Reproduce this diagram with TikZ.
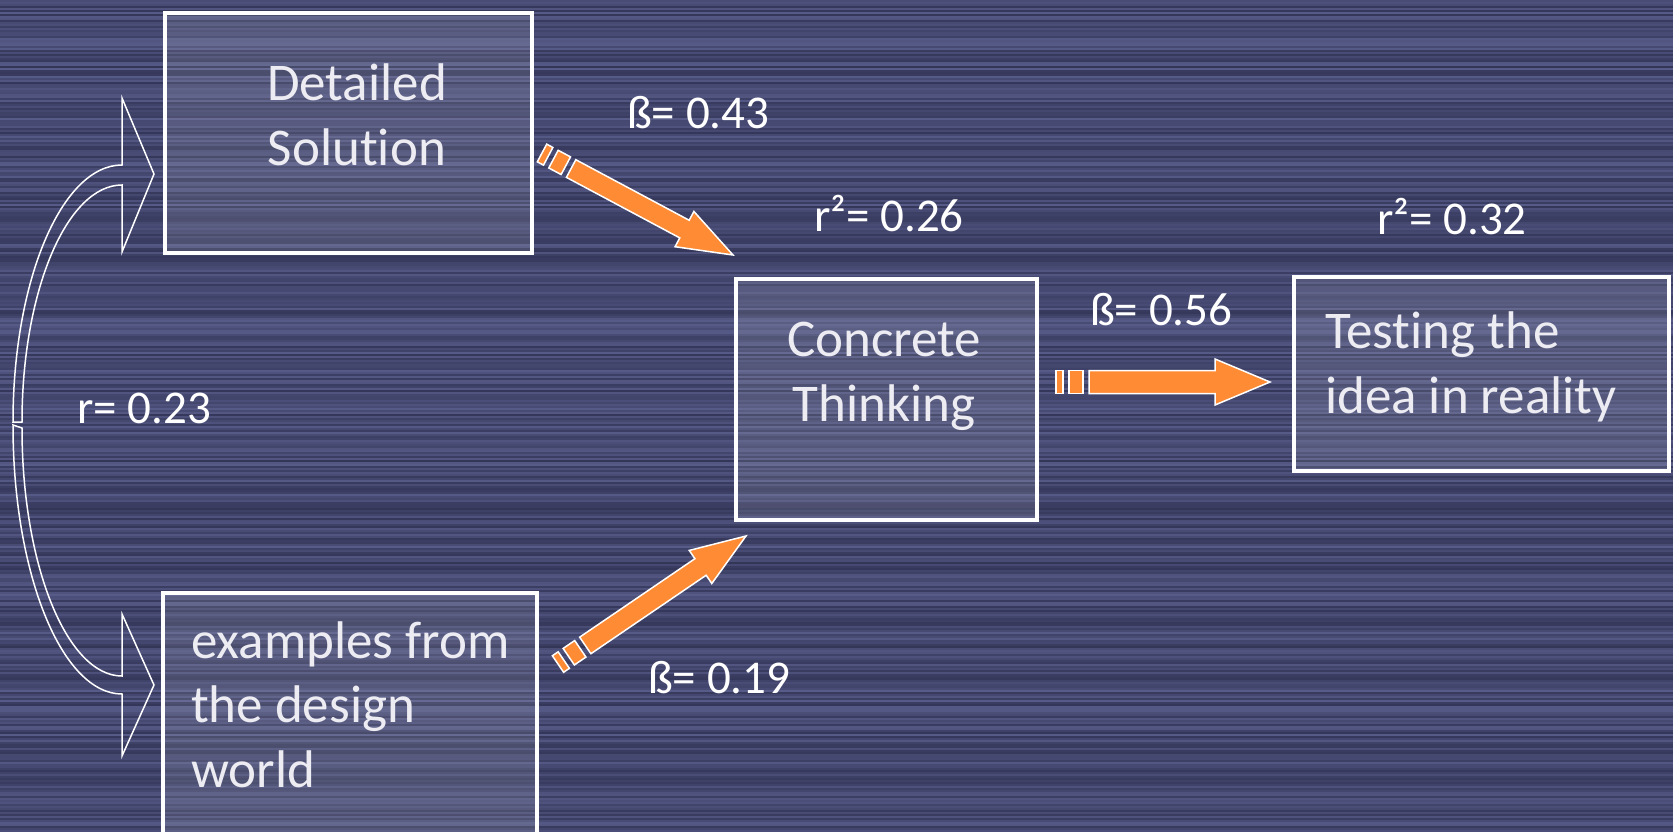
\documentclass[tikz,border=0pt]{standalone}
\usepackage{fontspec}
\setmainfont{Carlito}[Ligatures={NoCommon,NoContextual}]
\usetikzlibrary{calc}
\definecolor{bgdark}{RGB}{44,46,78}
\definecolor{bglight}{RGB}{94,99,146}
\definecolor{arroworange}{RGB}{255,139,52}
\definecolor{boxtext}{RGB}{236,236,242}
\newcommand\stripearrow[4]{%
  \path let \p1=($(#2)-(#1)$) in \pgfextra{%
    \pgfmathsetmacro\tmpang{atan2(\y1,\x1)}%
    \pgfmathsetmacro\tmplen{veclen(\x1,\y1)}%
    \xdef\ArAng{\tmpang}\xdef\ArLen{\tmplen}};
  \begin{scope}[shift={(#1)},rotate=\ArAng]
    \filldraw[orangebar] (0,-#3) rectangle (7,#3);
    \filldraw[orangebar] (13,-#3) rectangle (27,#3);
    \filldraw[orangebar] (33,-#3) -- ({\ArLen-55},-#3) -- ({\ArLen-55},-#4) -- (\ArLen,0)
      -- ({\ArLen-55},#4) -- ({\ArLen-55},#3) -- (33,#3) -- cycle;
  \end{scope}}
\begin{document}
\begin{tikzpicture}[x=1pt,y=-1pt,
  box/.style={draw=white, line width=4pt, fill=white, fill opacity=0.10, inner sep=0pt, outer sep=0pt},
  boxtxt/.style={text=boxtext, font=\fontsize{53}{64.5}\selectfont, inner sep=0pt},
  lbl/.style={text=white, font=\fontsize{47}{54}\selectfont, inner sep=0pt, anchor=base west},
  orangebar/.style={fill=arroworange, draw=white, line width=1.5pt, line join=miter},
  curvearrow/.style={draw=white, line width=1.5pt, line join=miter}]
\useasboundingbox (0,0) rectangle (1673,832);
\clip (0,0) rectangle (1673,832);
% background stripes
\pgfmathsetseed{12345}
\foreach \k in {0,...,415} {
  \pgfmathtruncatemacro\mixv{15+70*rnd}
  \fill[bglight!\mixv!bgdark] (0,{2*\k}) rectangle (1673,{2*\k+2});
}
% boxes
\node[box, minimum width=367pt, minimum height=240pt] (det) at (348.5,133) {};
\node[box, minimum width=301pt, minimum height=241pt] (con) at (886.5,399.5) {};
\node[box, minimum width=375pt, minimum height=194pt] (test) at (1481.5,374) {};
\node[box, minimum width=374pt, minimum height=290pt] (ex) at (350,738) {};
% box texts
\node[boxtxt, align=center, anchor=base] (detT) at (357,165) {Detailed\\Solution};
\node[boxtxt, align=center, anchor=base] (conT) at (884,421) {Concrete\\Thinking};
\node[boxtxt, align=left, anchor=base west] (testT) at (1325,413) {Testing the\\idea in reality};
\node[boxtxt, align=left, anchor=base west] (exT) at (191,787) {examples from\\the design\\world};
% labels
\node[lbl] (b43) at (627,129) {ß= 0.43};
\node[lbl] (r26) at (814,231) {r²= 0.26};
\node[lbl] (r32) at (1377,234) {r²= 0.32};
\node[lbl] (b56) at (1090,325) {ß= 0.56};
\node[lbl] (r23) at (77,423) {r= 0.23};
\node[lbl] (b19) at (648,693) {ß= 0.19};
% orange arrows
\coordinate (dsA) at ($(det.east)+(10,20)$);
\coordinate (dsB) at ($(con.north west)+(-3,-24)$);
\coordinate (exA) at ($(ex.north east)+(21,71)$);
\coordinate (exB) at ($(con.south west)+(10,16)$);
\coordinate (ctA) at ($(con.east)+(19,-17.5)$);
\coordinate (ctB) at ($(test.west)+(-24,8)$);
\stripearrow{dsA}{dsB}{10}{20}
\stripearrow{exA}{exB}{10}{20}
\stripearrow{ctA}{ctB}{11.5}{23}
% curved double arrow (correlation)
\draw[curvearrow] (13,422) .. controls (13,280) and (62,165) .. (122,165) -- (122,98) -- (154,174)
  -- (122,252) -- (122,185) .. controls (67,185) and (22,291) .. (22,422) -- cycle;
\draw[curvearrow] (13,425) .. controls (13,574) and (62,694) .. (122,694) -- (122,756) -- (154,685)
  -- (122,614) -- (122,676) .. controls (67,676) and (22,565) .. (22,428) -- cycle;
\end{tikzpicture}
\end{document}
